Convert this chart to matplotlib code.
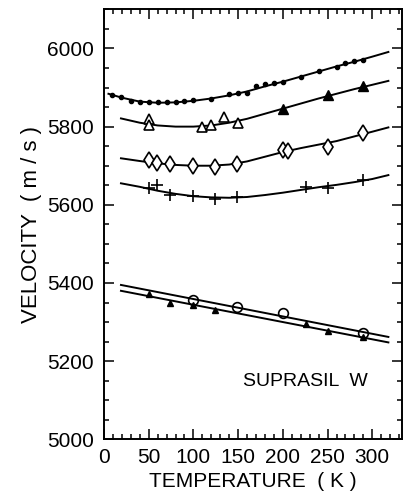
import matplotlib.pyplot as plt
import numpy as np

plt.rcParams['font.family'] = ['Liberation Sans', 'DejaVu Sans']

# ---- data ----
# filled dots (top series)
dot_t = [9, 19, 30, 40, 50, 60, 70, 81, 90, 100, 120, 140, 150, 160, 170, 180, 190, 200, 220, 240, 260, 270, 280, 290]
dot_v = [5882, 5876, 5865, 5863, 5862, 5862, 5863, 5864, 5865, 5868, 5870, 5883, 5885, 5887, 5904, 5909, 5911, 5913, 5928, 5943, 5953, 5963, 5967, 5970]
dot_fit_t = [5, 20, 40, 60, 80, 100, 120, 140, 160, 180, 200, 220, 240, 260, 280, 300, 318]
dot_fit_v = [5884, 5874, 5864, 5861, 5862, 5866, 5872, 5880, 5890, 5903, 5915, 5928, 5941, 5954, 5966, 5979, 5991]

# open / filled triangles
otri_t = [50, 50, 110, 120, 134, 150]
otri_v = [5819, 5804, 5799, 5804, 5825, 5810]
ftri_t = [200, 250, 290]
ftri_v = [5846, 5882, 5904]
tri_fit_t = [19, 40, 60, 80, 100, 120, 140, 160, 180, 200, 220, 240, 260, 280, 300, 318]
tri_fit_v = [5821, 5810, 5803, 5800, 5800, 5803, 5810, 5820, 5833, 5846, 5859, 5872, 5884, 5896, 5907, 5917]

# diamonds
dia_t = [50, 59, 74, 100, 124, 149, 200, 206, 250, 290]
dia_v = [5714, 5708, 5704, 5699, 5697, 5704, 5740, 5738, 5748, 5784]
dia_fit_t = [19, 40, 60, 80, 100, 120, 140, 160, 180, 200, 220, 240, 260, 280, 300, 318]
dia_fit_v = [5719, 5712, 5706, 5702, 5700, 5700, 5703, 5711, 5723, 5735, 5745, 5754, 5763, 5775, 5787, 5798]

# plus signs
plus_t = [50, 59, 74, 100, 124, 149, 226, 250, 290]
plus_v = [5643, 5650, 5625, 5622, 5616, 5620, 5646, 5643, 5663]
plus_fit_t = [19, 40, 60, 80, 100, 120, 140, 160, 180, 200, 220, 240, 260, 280, 300, 318]
plus_fit_v = [5655, 5646, 5636, 5628, 5622, 5619, 5618, 5620, 5625, 5631, 5638, 5645, 5651, 5658, 5666, 5676]

# open circles and filled triangles (lower pair)
circ_t = [100, 149, 200, 290]
circ_v = [5356, 5339, 5324, 5273]
low_t = [50, 74, 100, 124, 226, 250, 290]
low_v = [5372, 5350, 5343, 5331, 5294, 5278, 5262]
upper_line_t = [19, 318]
upper_line_v = [5395, 5262]
lower_line_t = [19, 318]
lower_line_v = [5380, 5248]

fig = plt.figure(figsize=(4.03, 4.92), dpi=100)
ax = fig.add_axes([0.258, 0.107, 0.739, 0.874])

lw = 1.4
ax.plot(dot_fit_t, dot_fit_v, color='black', lw=lw)
ax.plot(dot_t, dot_v, 'o', color='black', ms=3.0)

ax.plot(tri_fit_t, tri_fit_v, color='black', lw=lw)
ax.plot(otri_t, otri_v, '^', mfc='white', mec='black', mew=1.2, ms=6.5)
ax.plot(ftri_t, ftri_v, '^', color='black', ms=6.5)

ax.plot(dia_fit_t, dia_fit_v, color='black', lw=lw)
ax.plot(dia_t, dia_v, 'd', mfc='white', mec='black', mew=1.2, ms=8)

ax.plot(plus_fit_t, plus_fit_v, color='black', lw=lw)
ax.plot(plus_t, plus_v, '+', color='black', mew=1.2, ms=8)

ax.plot(upper_line_t, upper_line_v, color='black', lw=lw)
ax.plot(lower_line_t, lower_line_v, color='black', lw=lw)
ax.plot(circ_t, circ_v, 'o', mfc='none', mec='black', mew=1.2, ms=7)
ax.plot(low_t, low_v, '^', color='black', ms=5)

ax.text(155, 5149, 'SUPRASIL  W', fontsize=14, va='center', ha='left')

ax.set_xlim(0, 333)
ax.set_ylim(5000, 6100)
ax.set_xticks(np.arange(0, 301, 50))
ax.set_xticks(np.arange(0, 331, 10), minor=True)
ax.set_yticks(np.arange(5000, 6001, 200))
ax.set_yticks(np.arange(5000, 6101, 50), minor=True)
ax.tick_params(which='both', direction='in', top=True, right=True, width=1.1, labelsize=15)
ax.tick_params(which='major', length=7)
ax.tick_params(which='minor', length=3.5)
ax.tick_params(axis='x', which='major', pad=6)
ax.tick_params(axis='y', which='major', pad=7)
for s in ax.spines.values():
    s.set_linewidth(1.4)

ax.set_xlabel('TEMPERATURE  ( K )', fontsize=15, labelpad=4)
ax.set_ylabel('VELOCITY  ( m / s )', fontsize=16, labelpad=4)

fig.savefig('out.png', dpi=100)
